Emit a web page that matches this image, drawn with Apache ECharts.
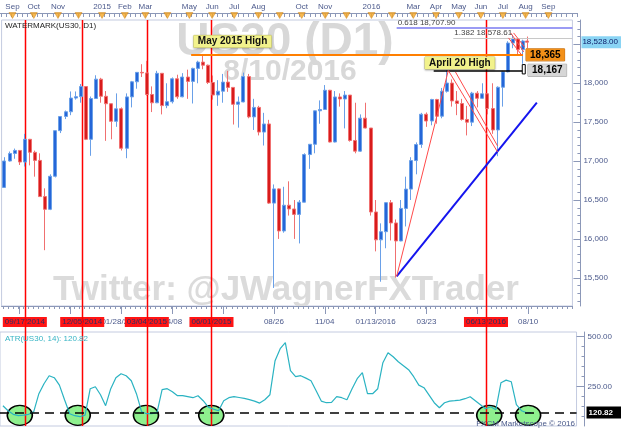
<!DOCTYPE html>
<html><head><meta charset="utf-8">
<script src="https://cdn.jsdelivr.net/npm/echarts@6/dist/echarts.min.js"></script>
<style>html,body{margin:0;padding:0;background:#fff}#c{width:624px;height:428px}</style>
</head><body><div id="c"></div>
<script>
// ---------- data (weekly candles) ----------
const weekDates = [
'2014-08-20','2014-08-27','2014-09-03','2014-09-10','2014-09-17','2014-09-24','2014-10-01','2014-10-08','2014-10-15','2014-10-22',
'2014-10-29','2014-11-05','2014-11-12','2014-11-19','2014-11-26','2014-12-03','2014-12-10','2014-12-17','2014-12-24','2014-12-31',
'2015-01-07','2015-01-14','2015-01-21','2015-01-28','2015-02-04','2015-02-11','2015-02-18','2015-02-25','2015-03-04','2015-03-11',
'2015-03-18','2015-03-25','2015-04-01','2015-04-08','2015-04-15','2015-04-22','2015-04-29','2015-05-06','2015-05-13','2015-05-20',
'2015-05-27','2015-06-03','2015-06-10','2015-06-17','2015-06-24','2015-07-01','2015-07-08','2015-07-15','2015-07-22','2015-07-29',
'2015-08-05','2015-08-12','2015-08-19','2015-08-26','2015-09-02','2015-09-09','2015-09-16','2015-09-23','2015-09-30','2015-10-07',
'2015-10-14','2015-10-21','2015-10-28','2015-11-04','2015-11-11','2015-11-18','2015-11-25','2015-12-02','2015-12-09','2015-12-16',
'2015-12-23','2015-12-30','2016-01-06','2016-01-13','2016-01-20','2016-01-27','2016-02-03','2016-02-10','2016-02-17','2016-02-24',
'2016-03-02','2016-03-09','2016-03-16','2016-03-23','2016-03-30','2016-04-06','2016-04-13','2016-04-20','2016-04-27','2016-05-04',
'2016-05-11','2016-05-18','2016-05-25','2016-06-01','2016-06-08','2016-06-15','2016-06-22','2016-06-29','2016-07-06','2016-07-13',
'2016-07-20','2016-07-27','2016-08-03','2016-08-09'];
const opens = [16662,17001,17098,17137,16988,17280,17113,17009,16544,16380,16805,17391,17573,17634,17810,17828,17958,17280,17804,18053,
17833,17737,17511,17672,17165,17825,18019,18140,18133,17856,17749,18128,17713,17763,18058,17826,18080,18024,18191,18272,
18232,18010,17849,17898,18015,17947,17730,17760,18086,17568,17690,17373,17477,16460,16643,16102,16433,16385,16315,16472,
17084,17216,17646,17663,17910,17245,17824,17798,17848,17265,17128,17552,17425,16346,15988,16093,16466,16205,15974,16392,
16640,17007,17213,17602,17515,17792,17577,17897,18003,17773,17740,17535,17500,17873,17807,17865,17675,17400,17949,18147,
18517,18571,18433,18543];
const highs = [17050,17123,17161,17140,17350,17285,17135,17100,16650,16830,17395,17580,17650,17895,17895,17991,17960,17830,18103,18070,
17900,17740,17870,17690,17870,18030,18140,18245,18288,17960,18160,18130,18000,18075,18110,18130,18175,18200,18290,18351,
18240,18100,18040,18120,18160,17950,17830,18137,18120,17800,17710,17620,17530,16700,16650,16670,16740,16500,16500,17100,
17220,17650,17780,17977,17915,17900,17870,17900,17850,17750,17600,17750,17425,16500,16200,16470,16500,16250,16500,16800,
17050,17240,17620,17625,17800,17800,17940,18167,18050,17900,17800,17710,17890,17900,18000,17870,18000,17960,18160,18540,
18622,18580,18560,18600];
const lows = [16660,16995,17030,16950,16930,16945,16800,16540,15855,16370,16790,17360,17540,17590,17790,17750,17270,17068,17800,17750,
17260,17280,17440,17136,17037,17690,17930,18080,17840,17630,17745,17600,17680,17740,17800,17820,17800,17740,18000,18180,
17990,17790,17710,17750,17890,17470,17430,17755,17550,17400,17330,17200,16450,15370,16000,16080,16300,16000,15942,16470,
16900,17100,17480,17660,17240,17240,17700,17420,17250,17100,17120,17420,16300,15840,15450,15880,15980,15503,15970,16160,
16500,16830,17170,17440,17460,17480,17550,17880,17700,17590,17520,17330,17450,17690,17800,17600,17350,17063,17700,18140,
18450,18370,18250,18450];
const closes = [17001,17098,17137,16988,17280,17113,17009,16544,16380,16805,17391,17573,17634,17810,17828,17958,17280,17804,18053,17833,
17737,17511,17672,17165,17825,18019,18140,18133,17856,17749,18128,17713,17763,18058,17826,18080,18024,18191,18272,18232,
18010,17849,17898,18015,17947,17730,17760,18086,17568,17690,17373,17477,16460,16643,16102,16433,16385,16315,16472,17084,
17216,17646,17663,17910,17245,17824,17798,17848,17265,17128,17552,17425,16346,15988,16093,16466,16205,15974,16392,16640,
17007,17213,17602,17515,17792,17577,17897,18003,17773,17740,17535,17500,17873,17807,17865,17675,17400,17949,18147,18517,
18571,18433,18543,18528];
const atrValues = [155,130,112,105,108,112,125,215,265,305,295,258,185,115,105,100,108,240,250,210,
155,240,295,315,305,280,215,125,115,115,120,235,240,225,205,205,200,195,205,180,
148,138,130,180,195,200,196,192,185,178,168,185,210,380,440,470,330,300,305,293,
280,230,178,170,172,200,195,185,240,290,320,215,215,240,370,420,400,375,355,335,
300,258,245,208,170,145,170,178,180,183,190,200,180,160,140,150,135,270,283,275,
160,130,120,120.82];

// axis labels / tick labels
const topMonthDates = ['2014-09-02','2014-10-01','2014-11-03','2015-01-02','2015-02-02','2015-03-02','2015-05-01','2015-06-01','2015-07-01','2015-08-03',
'2015-10-01','2015-11-02','2016-01-04','2016-03-01','2016-04-01','2016-05-02','2016-06-01','2016-07-01','2016-08-01','2016-09-01'];
const topMonthLabels = ['Sep','Oct','Nov','2015','Feb','Mar','May','Jun','Jul','Aug','Oct','Nov','2016','Mar','Apr','May','Jun','Jul','Aug','Sep'];
const monthStartDates = ['2014-09-02','2014-10-01','2014-11-03','2014-12-01','2015-01-02','2015-02-02','2015-03-02','2015-04-01','2015-05-01','2015-06-01',
'2015-07-01','2015-08-03','2015-09-01','2015-10-01','2015-11-02','2015-12-01','2016-01-04','2016-02-01','2016-03-01','2016-04-01',
'2016-05-02','2016-06-01','2016-07-01','2016-08-01','2016-09-01'];
const bottomLabelDates = ['2015-01-28','2015-04-08','2015-08-26','2015-11-04','2016-01-13','2016-03-23','2016-08-10'];
const bottomLabelTexts = ['01/28/2015','04/08','08/26','11/04','01/13/2016','03/23','08/10'];
const bottomMajorTickDates = ['2014-09-10','2014-11-19','2015-01-28','2015-04-08','2015-06-17','2015-08-26','2015-11-04','2016-01-13','2016-03-23','2016-06-01','2016-08-10'];
const markedDates = ['2014-09-17','2014-12-05','2015-03-04','2015-06-01','2016-06-13'];
const markedTexts = ['09/17/2014','12/05/2014','03/04/2015','06/01/2015','06/13/2016'];
const ellipseDates = ['2014-09-12','2014-11-30','2015-03-03','2015-05-31','2016-06-13','2016-08-05'];
const priceTicks = [15500,16000,16500,17000,17500,18000];
const priceMajorTicks = [15500,16000,16500,17000,17500,18000,18500];
const atrTicks = [250,500];
const may2015High = 18365, april20High = 18167, fib0618 = 18707.90, fib1382 = 18578.61, lastPrice = 18528.00, lastATR = 120.82;

// ---------- chart ----------
const T = s => Date.parse(s + 'T00:00:00Z');
const X_MIN = T('2014-08-16'), X_MAX = T('2016-10-10');
const Y_MIN = 15138, Y_MAX = 18813, A_MIN = 53.5, A_MAX = 523.5;
const FONT = '"Liberation Sans", Arial, sans-serif';
const axisColor = '#8c98b8', labelColor = '#4c5a8c';

const mondays = []; for (let t = T('2014-08-18'); t <= X_MAX; t += 7 * 864e5) mondays.push(t);
const minorPrice = []; for (let v = 15200; v <= 18800; v += 100) minorPrice.push(v);
const minorAtr = []; for (let v = 100; v <= 500; v += 50) minorAtr.push(v);

const lookup = (dates, texts) => { const m = new Map(); dates.forEach((d, i) => m.set(T(d), texts[i])); return v => m.has(+v) ? m.get(+v) : ''; };
const fmtTop = lookup(topMonthDates, topMonthLabels);
const fmtBottom = lookup(bottomLabelDates, bottomLabelTexts);
const fmtMarked = lookup(markedDates, markedTexts);

const candleData = weekDates.map((d, i) => [T(d), opens[i], closes[i], lows[i], highs[i]]);
const atrData = weekDates.map((d, i) => [T(d), atrValues[i]]);

const seg = (a, b, ls, label) => [{coord: a, lineStyle: ls, label: label || {show: false}}, {coord: b}];
const redLS = {color: '#ff4a4a', width: 1, type: 'solid'};
const xBase = {type: 'value', min: X_MIN, max: X_MAX, scale: true, splitLine: {show: false}};

const option = {
  animation: false,
  textStyle: {fontFamily: FONT},
  title: {text: 'FXCM Marketscope © 2016', right: 49, bottom: 0, padding: 0, z: 20,
          textStyle: {fontSize: 8, fontWeight: 'normal', color: '#4a5a8a', fontFamily: FONT}},
  grid: [
    {left: 0, right: 47, top: 20, height: 286, show: true, borderColor: '#c4cbe0', borderWidth: 1},
    {left: 0, right: 47, top: 332, height: 94, show: true, borderColor: '#c4cbe0', borderWidth: 1},
    {left: 0, right: 47, top: 0, height: 13, show: false}
  ],
  xAxis: [
    Object.assign({}, xBase, {gridIndex: 0, position: 'bottom',
     axisLine: {show: true, onZero: false, lineStyle: {color: axisColor}},
     axisTick: {show: true, customValues: mondays, length: 3, lineStyle: {color: axisColor}},
     axisLabel: {show: true, customValues: bottomLabelDates.map(T), formatter: fmtBottom, color: labelColor, fontSize: 8, margin: 12, hideOverlap: false}}),
    Object.assign({}, xBase, {gridIndex: 0, position: 'bottom',
     axisLine: {show: false, onZero: false},
     axisTick: {show: true, customValues: bottomMajorTickDates.map(T), length: 8, lineStyle: {color: axisColor}},
     axisLabel: {show: false}}),
    Object.assign({}, xBase, {gridIndex: 0, position: 'bottom',
     axisLine: {show: false, onZero: false}, axisTick: {show: false},
     axisLabel: {show: true, customValues: markedDates.map(T), formatter: fmtMarked, backgroundColor: '#ff1414', color: '#2a3266',
                 padding: [1, 2], fontSize: 8, margin: 11, hideOverlap: false}}),
    Object.assign({}, xBase, {gridIndex: 1,
     axisLine: {show: false, onZero: false}, axisTick: {show: false}, axisLabel: {show: false}}),
    Object.assign({}, xBase, {gridIndex: 2, position: 'bottom',
     axisLine: {show: true, onZero: false, lineStyle: {color: axisColor}},
     axisTick: {show: true, customValues: mondays, length: 4, lineStyle: {color: axisColor}},
     axisLabel: {show: true, inside: true, customValues: topMonthDates.map(T), formatter: fmtTop, color: labelColor, fontSize: 8, margin: 2, hideOverlap: false}})
  ],
  yAxis: [
    {type: 'value', gridIndex: 0, position: 'right', offset: 8, min: Y_MIN, max: Y_MAX,
     axisLine: {show: true, onZero: false, lineStyle: {color: axisColor}},
     axisTick: {show: true, inside: true, length: 3, customValues: minorPrice, lineStyle: {color: axisColor}},
     axisLabel: {show: false}, splitLine: {show: false}},
    {type: 'value', gridIndex: 0, position: 'right', offset: 8, min: Y_MIN, max: Y_MAX,
     axisLine: {show: false, onZero: false},
     axisTick: {show: true, inside: true, length: 7, customValues: priceMajorTicks, lineStyle: {color: axisColor}},
     axisLabel: {show: true, customValues: priceTicks, formatter: v => Number(v).toLocaleString('en-US'), color: labelColor, fontSize: 8, margin: 3},
     splitLine: {show: false}},
    {type: 'value', gridIndex: 0, position: 'right', offset: 8, min: Y_MIN, max: Y_MAX,
     axisLine: {show: false, onZero: false}, axisTick: {show: false},
     axisLabel: {show: true, customValues: [lastPrice], formatter: v => Number(v).toLocaleString('en-US', {minimumFractionDigits: 2}),
                 color: '#10206a', backgroundColor: '#8ad4f4', padding: [2, 3, 2, 1], fontSize: 8, margin: 1},
     splitLine: {show: false}},
    {type: 'value', gridIndex: 1, position: 'right', offset: 8, min: A_MIN, max: A_MAX,
     axisLine: {show: true, onZero: false, lineStyle: {color: axisColor}},
     axisTick: {show: true, inside: true, length: 3, customValues: minorAtr, lineStyle: {color: axisColor}},
     axisLabel: {show: false}, splitLine: {show: false}},
    {type: 'value', gridIndex: 1, position: 'right', offset: 8, min: A_MIN, max: A_MAX,
     axisLine: {show: false, onZero: false},
     axisTick: {show: true, inside: true, length: 8, customValues: atrTicks, lineStyle: {color: axisColor}},
     axisLabel: {show: true, customValues: atrTicks, formatter: v => Number(v).toFixed(2), color: labelColor, fontSize: 8, margin: 3},
     splitLine: {show: false}},
    {type: 'value', gridIndex: 1, position: 'right', offset: 8, min: A_MIN, max: A_MAX,
     axisLine: {show: false, onZero: false}, axisTick: {show: false},
     axisLabel: {show: true, customValues: [lastATR], formatter: v => Number(v).toFixed(2), color: '#ffffff', fontWeight: 'bold',
                 backgroundColor: '#000000', padding: [2, 8, 2, 2], fontSize: 8, margin: 2},
     splitLine: {show: false}},
    {type: 'value', gridIndex: 2, min: 0, max: 13, show: false}
  ],
  series: [
    {type: 'candlestick', xAxisIndex: 0, yAxisIndex: 0, z: 3, barWidth: 3.5, data: candleData, encode: {x: 0, y: [1, 2, 3, 4]},
     itemStyle: {color: '#2566d8', color0: '#d81c1c', borderColor: '#6aa0e8', borderColor0: '#f07070', borderWidth: 1},
     markLine: {
       symbol: ['none', 'none'], silent: true, animation: false, label: {show: false},
       data: [
         seg([T('2015-05-04'), may2015High], [T('2016-08-03'), may2015High], {color: '#ff7f00', width: 2, type: 'solid'},
             {show: true, position: 'end', formatter: '18,365', distance: 3, backgroundColor: '#f39018', color: '#000', fontWeight: 'bold',
              fontSize: 10, padding: [1, 4], borderColor: '#b86000', borderWidth: 0.5}),
         seg([T('2016-04-02'), april20High], [T('2016-08-03'), april20High], {color: '#000', width: 1.5, type: 'solid'},
             {show: true, position: 'end', formatter: '18,167', distance: 5, backgroundColor: '#d6d6d6', color: '#000', fontWeight: 'bold',
              fontSize: 10, padding: [1, 4], borderColor: '#999', borderWidth: 0.5}),
         seg([T('2016-02-11'), fib0618], [X_MAX, fib0618], {color: '#7a7af0', width: 1.5, type: 'solid'},
             {show: true, position: 'insideStartTop', formatter: '0.618 18,707.90', color: '#444', fontSize: 8, distance: 1}),
         seg([T('2016-04-29'), fib1382], [X_MAX, fib1382], {color: '#c8c8c8', width: 1, type: 'solid'},
             {show: true, position: 'insideStartTop', formatter: '1.382 18,578.61', color: '#444', fontSize: 8, distance: 1}),
         seg([T('2016-02-11'), 15520], [T('2016-08-22'), 17750], {color: '#1515ee', width: 2, type: 'solid'}),
         seg([T('2016-02-11'), 15520], [T('2016-04-22'), 18160], redLS),
         seg([T('2016-04-22'), 18167], [T('2016-06-29'), 17117], redLS),
         seg([T('2016-05-02'), 18145], [T('2016-06-29'), 17194], redLS),
         seg([T('2016-07-17'), 18647], [T('2016-08-04'), 18403], redLS),
         seg([T('2016-07-21'), 18647], [T('2016-08-05'), 18467], redLS),
         seg([T('2016-07-14'), 18583], [T('2016-08-01'), 18364], redLS)
       ]
     },
     markPoint: {
       symbol: 'rect', symbolSize: 1, silent: true, animation: false, itemStyle: {color: 'rgba(0,0,0,0)'},
       label: {show: true, position: 'inside', color: '#111', fontWeight: 'bold', fontSize: 10, backgroundColor: '#f2f28c',
               borderColor: '#d0d070', borderWidth: 0.5, padding: [1, 4], shadowColor: 'rgba(0,0,0,0.25)', shadowBlur: 2, shadowOffsetY: 1},
       data: [
         {coord: [T('2015-06-30'), 18538], label: {formatter: 'May 2015 High'}},
         {coord: [T('2016-05-08'), 18261], label: {formatter: 'April 20 High'}}
       ]
     }},
    {type: 'line', xAxisIndex: 3, yAxisIndex: 3, z: 3, data: atrData, showSymbol: false, symbol: 'none',
     lineStyle: {color: '#2ab3c2', width: 1.2},
     markLine: {symbol: ['none', 'none'], silent: true, animation: false, label: {show: false},
                lineStyle: {color: '#000', width: 1.5, type: [9, 6]}, data: [{yAxis: lastATR}]}},
    {type: 'scatter', xAxisIndex: 3, yAxisIndex: 3, z: 1, symbol: 'circle', symbolSize: [25, 20],
     data: ellipseDates.map(d => [T(d), 107]),
     itemStyle: {color: '#8ef08e', borderColor: '#000', borderWidth: 1.5, opacity: 1}},
    {type: 'scatter', xAxisIndex: 4, yAxisIndex: 6, z: 3, clip: false, symbol: 'triangle', symbolRotate: 180, symbolSize: [7, 6],
     data: monthStartDates.map(d => [T(d), -2.5]),
     itemStyle: {color: '#f5a623', borderColor: '#c07000', borderWidth: 0.5}}
  ]
};

const chart = echarts.init(document.getElementById('c'), null, {renderer: 'canvas'});
chart.setOption(option);

const toPx = (d, v) => chart.convertToPixel({gridIndex: 0}, [typeof d === 'string' ? T(d) : d, v]);
const g = [];
g.push({type: 'text', x: 285, y: 42, z: 0, style: {text: 'US30 (D1)', font: 'bold 46px ' + FONT, fill: '#d8d8d8', align: 'center', verticalAlign: 'middle'}});
g.push({type: 'text', x: 290, y: 72, z: 0, style: {text: '8/10/2016', font: 'bold 30px ' + FONT, fill: '#d8d8d8', align: 'center', verticalAlign: 'middle'}});
g.push({type: 'text', x: 53, y: 290, z: 0, style: {text: 'Twitter: @JWagnerFXTrader', font: 'bold 35px ' + FONT, fill: '#dbdbdb', align: 'left', verticalAlign: 'middle'}});
markedDates.forEach(d => {
  const x = Math.round(toPx(d, 17000)[0]) + 0.5;
  g.push({type: 'line', z: 2, shape: {x1: x, y1: 20, x2: x, y2: 426}, style: {stroke: '#ff0000', lineWidth: 1.5}});
});
const b1 = toPx('2016-08-04', 18240), b2 = toPx('2016-08-04', 18120);
g.push({type: 'rect', z: 6, shape: {x: b1[0] - 1.5, y: b1[1], width: 3, height: b2[1] - b1[1]}, style: {fill: '#fff', stroke: '#000', lineWidth: 1}});
g.push({type: 'text', x: 5, y: 26, z: 10, style: {text: 'WATERMARK(US30, D1)', font: '8px ' + FONT, fill: '#222', verticalAlign: 'middle'}});
g.push({type: 'text', x: 5, y: 339, z: 10, style: {text: 'ATR(US30, 14): 120.82', font: '8px ' + FONT, fill: '#36b4c4', verticalAlign: 'middle'}});
chart.setOption({graphic: g});
</script></body></html>
